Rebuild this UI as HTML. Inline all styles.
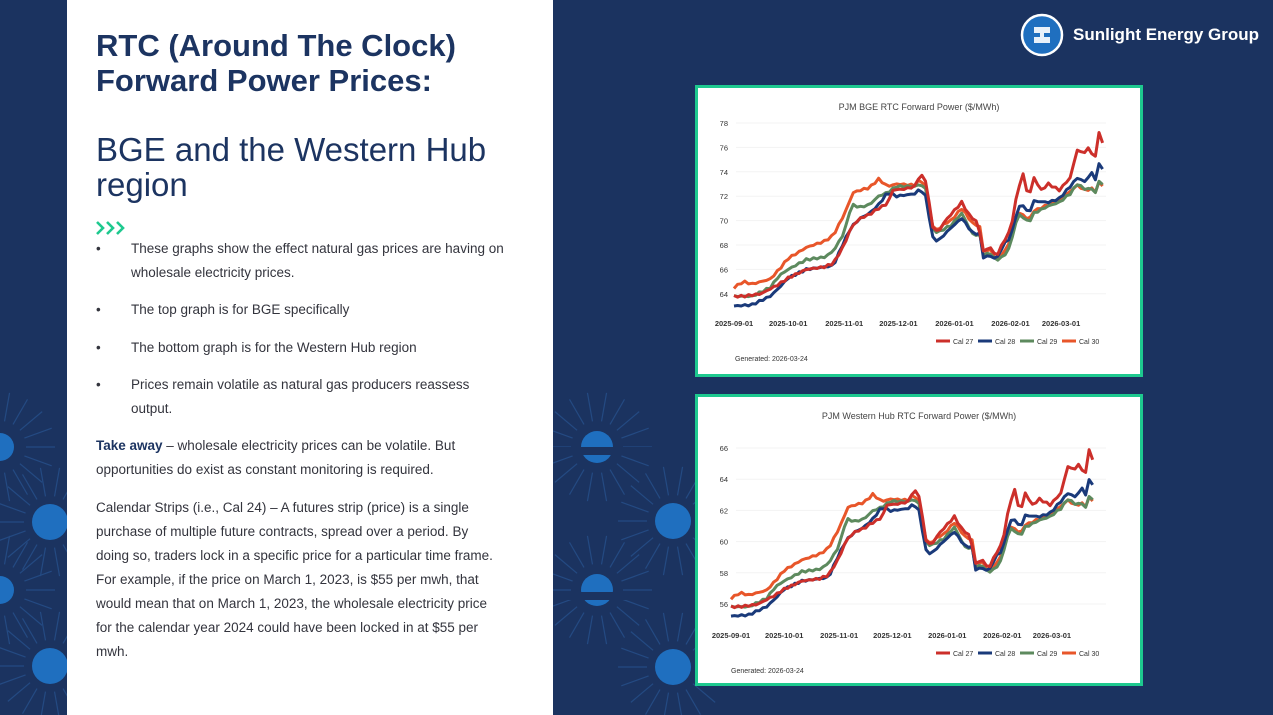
<!DOCTYPE html>
<html><head><meta charset="utf-8"><style>
body{margin:0;width:1273px;height:715px;background:#1b3360;position:relative;overflow:hidden;font-family:"Liberation Sans",sans-serif}
#panel{position:absolute;left:67px;top:0;width:486px;height:715px;background:#fff}
.t{position:absolute;color:#1c3461}
.b{position:absolute;left:96px;font-size:13.5px;color:#33343d;line-height:24px}
.chart{position:absolute;left:695px;width:442px;height:286px;border:3px solid #1ec98f;background:#fff}
</style></head><body>
<svg width="1273" height="715" style="position:absolute;left:0;top:0">
<g stroke="#2a5a9a" stroke-width="1.2" opacity="0.6" id="deco"></g>
<g fill="#1f6fbf">
<circle cx="597" cy="447" r="16"/><circle cx="673" cy="521" r="18"/><circle cx="597" cy="590" r="16"/><circle cx="673" cy="667" r="18"/>
<circle cx="0" cy="447" r="14"/><circle cx="50" cy="522" r="18"/><circle cx="0" cy="590" r="14"/><circle cx="50" cy="666" r="18"/>
</g>
<rect x="553" y="447" width="140" height="8" fill="#1b3360"/><rect x="553" y="592" width="140" height="8" fill="#1b3360"/>
</svg>
<div id="panel"></div>
<div class="t" style="left:96px;top:28px;font-size:31px;font-weight:bold;line-height:35px">RTC (Around The Clock)<br>Forward Power Prices:</div>
<div class="t" style="left:96px;top:132px;font-size:33px;line-height:35px">BGE and the Western Hub<br>region</div>
<svg width="34" height="14" style="position:absolute;left:96px;top:221px"><g fill="none" stroke="#1ec98f" stroke-width="2.6"><path d="M1 1l6 6-6 6M11 1l6 6-6 6M21 1l6 6-6 6"/></g></svg>
<div class="b" style="top:237px">•</div><div class="b" style="top:237px;left:131px;width:400px">These graphs show the effect natural gas prices are having on wholesale electricity prices.</div>
<div class="b" style="top:298px">•</div><div class="b" style="top:298px;left:131px">The top graph is for BGE specifically</div>
<div class="b" style="top:336px">•</div><div class="b" style="top:336px;left:131px">The bottom graph is for the Western Hub region</div>
<div class="b" style="top:373px">•</div><div class="b" style="top:373px;left:131px;width:380px">Prices remain volatile as natural gas producers reassess output.</div>
<div class="b" style="top:434px;width:390px"><b style="color:#1c3461">Take away</b> – wholesale electricity prices can be volatile. But opportunities do exist as constant monitoring is required.</div>
<div class="b" style="top:496px;width:400px">Calendar Strips (i.e., Cal 24) – A futures strip (price) is a single purchase of multiple future contracts, spread over a period. By doing so, traders lock in a specific price for a particular time frame. For example, if the price on March 1, 2023, is $55 per mwh, that would mean that on March 1, 2023, the wholesale electricity price for the calendar year 2024 could have been locked in at $55 per mwh.</div>
<svg width="44" height="44" style="position:absolute;left:1020px;top:13px"><circle cx="22" cy="22" r="20" fill="#1f6fbf" stroke="#fff" stroke-width="2.5"/><path d="M14 14h16v6H20v4h10v6H14v-6h10v-4H14z" fill="#fff" opacity=".9"/></svg>
<div style="position:absolute;left:1073px;top:25px;color:#fff;font-weight:bold;font-size:17px">Sunlight Energy Group</div>
<div class="chart" style="top:85px"><svg id="c1" width="442" height="286"></svg></div>
<div class="chart" style="top:394px"><svg id="c2" width="442" height="286"></svg></div>
<script>
var d=document.getElementById('deco'),s='';
[[597,447],[673,521],[597,590],[673,667],[0,447],[50,522],[0,590],[50,666]].forEach(function(c){for(var a=0;a<360;a+=20){var r=a*Math.PI/180;s+='<line x1="'+(c[0]+Math.cos(r)*26)+'" y1="'+(c[1]+Math.sin(r)*26)+'" x2="'+(c[0]+Math.cos(r)*55)+'" y2="'+(c[1]+Math.sin(r)*55)+'"/>';}});
d.innerHTML=s;
var S={
r:[[0,63.8],[5,63.8],[15,64],[25,64.8],[30,65.3],[40,66],[50,66.2],[55,66.5],[61,68],[65,69.5],[70,70.2],[75,70.5],[80,71],[85,71.4],[88,72.5],[95,72.6],[100,72.8],[103,73.8],[106,73.3],[110,69.5],[113,69],[116,69.8],[120,70.5],[126,71.5],[130,70.5],[135,69.8],[138,67.5],[142,67.8],[145,67],[150,68.5],[153,69.2],[157,72.5],[160,73.8],[163,71.8],[166,73.5],[170,72.5],[174,73],[180,72.5],[186,73.5],[190,75.8],[193,75.5],[196,75.9],[200,75.2],[202,77.3],[204,76.3]],
n:[[0,63],[10,63.1],[20,63.8],[25,64.5],[30,65.3],[40,66],[50,66.2],[55,66.3],[60,68],[65,69.5],[70,70.2],[75,70.6],[80,71.3],[85,72.3],[90,72],[100,72.2],[103,72.6],[106,72],[110,68.6],[113,68.3],[116,68.8],[120,69.4],[126,70.2],[132,69],[136,68.9],[138,67],[142,67.1],[145,66.8],[150,68.2],[153,68.6],[157,71],[160,71.3],[163,70.5],[166,71.6],[174,71.5],[180,71.8],[186,72.8],[190,73.5],[194,73.2],[198,73.9],[200,73.4],[202,74.6],[204,74.3]],
g:[[0,63.8],[10,63.8],[20,64.5],[25,65.5],[30,66],[40,66.8],[50,67],[55,67.5],[61,69],[65,71.3],[70,71.1],[75,71.3],[80,72],[85,72.3],[90,72.8],[100,72.8],[103,73],[106,72.6],[110,69.3],[113,69],[116,69.3],[120,69.6],[126,70.6],[132,68.9],[136,68.8],[138,67.2],[142,67.3],[145,66.7],[150,67.2],[153,68],[157,70.5],[160,70.3],[163,69.8],[166,70.6],[174,71.2],[180,71.5],[186,72.2],[190,73],[194,72.6],[198,72.6],[200,72.3],[202,73.2],[204,73]],
o:[[0,64.5],[5,65],[10,64.8],[20,65.2],[25,66],[30,66.9],[40,67.8],[50,68.3],[55,68.8],[61,70.5],[66,72.3],[70,72.5],[75,72.7],[80,73.4],[85,72.8],[90,73],[100,72.9],[103,73.4],[106,72.8],[110,69.5],[113,69.2],[116,69.7],[120,70],[126,71],[132,69.8],[136,69.5],[138,67.5],[142,67.6],[145,66.8],[150,67.5],[153,68.5],[157,70.6],[160,70.5],[163,70],[166,70.8],[174,71.3],[180,71.6],[186,72.4],[190,72.9],[194,72.5],[198,72.6],[200,72.4],[202,73.1],[204,72.9]]};
var col={r:'#cc2f2a',n:'#1a3a7a',g:'#5d8a5e',o:'#e8562a'};
function interp(a,t){for(var i=1;i<a.length;i++)if(t<=a[i][0]){var p=a[i-1],q=a[i];return p[1]+(q[1]-p[1])*(t-p[0])/(q[0]-p[0]);}return a[a.length-1][1];}
function draw(id,o){var h='',W='font-size="7.5" fill="#333"';
h+='<text x="221" y="22" text-anchor="middle" font-size="9" fill="#444">'+o.title+'</text>';
o.ticks.forEach(function(v){var y=o.y(v);h+='<line x1="38" x2="408" y1="'+y+'" y2="'+y+'" stroke="#f3f3f3"/><text x="30" y="'+(y+3)+'" text-anchor="end" '+W+'>'+v+'</text>';});
var L=['2025-09-01','2025-10-01','2025-11-01','2025-12-01','2026-01-01','2026-02-01','2026-03-01'],D=[0,30,61,91,122,153,181];
D.forEach(function(dd,i){h+='<text x="'+o.x(dd)+'" y="'+o.ly+'" text-anchor="middle" '+W+' font-weight="bold">'+L[i]+'</text>';});
['o','g','n','r'].forEach(function(k){var p=[];for(var t=0;t<=204;t+=2){var v=o.f(interp(S[k],t)+Math.sin(t*1.7+k.charCodeAt(0))*0.08);p.push(o.x(t).toFixed(1)+','+o.y(v).toFixed(1));}
h+='<polyline points="'+p.join(' ')+'" fill="none" stroke="'+col[k]+'" stroke-width="3" stroke-linejoin="round"/>';});
var lx=[238,280,322,364],nm=['Cal 27','Cal 28','Cal 29','Cal 30'];['r','n','g','o'].forEach(function(k,i){h+='<line x1="'+lx[i]+'" x2="'+(lx[i]+14)+'" y1="'+(o.ly+15)+'" y2="'+(o.ly+15)+'" stroke="'+col[k]+'" stroke-width="3"/><text x="'+(lx[i]+17)+'" y="'+(o.ly+18)+'" font-size="7" fill="#333">'+nm[i]+'</text>';});
h+='<text x="'+o.gx+'" y="'+(o.ly+35)+'" font-size="7" fill="#333">Generated: 2026-03-24</text>';
document.getElementById(id).innerHTML=h;}
draw('c1',{title:'PJM BGE RTC Forward Power ($/MWh)',ticks:[64,66,68,70,72,74,76,78],y:function(v){return 35-(v-78)*12.2;},x:function(t){return 36+t*1.807;},f:function(v){return v;},ly:238,gx:37});
draw('c2',{title:'PJM Western Hub RTC Forward Power ($/MWh)',ticks:[56,58,60,62,64,66],y:function(v){return 51-(v-66)*15.6;},x:function(t){return 33+t*1.773;},f:function(v){return 55.6+(v-63.5)*0.75;},ly:241,gx:33});
</script>
</body></html>
